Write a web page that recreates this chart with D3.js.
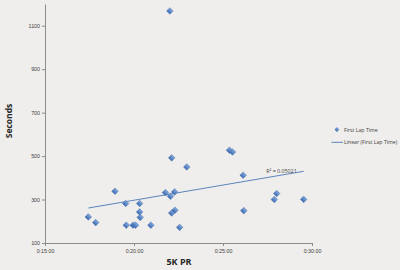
<!DOCTYPE html>
<html>
<head>
<meta charset="utf-8">
<script src="https://cdn.jsdelivr.net/npm/d3@7"></script>
<style>
  body { margin: 0; background: #efeeec; }
  svg { display: block; font-family: "Open Sans", "Liberation Sans", sans-serif; }
  .axis path, .axis line { stroke: #8c8c8c; }
  .axis text { fill: #404040; font-size: 5.3px; }
</style>
</head>
<body>
<svg id="chart" width="400" height="270"></svg>
<script>
// 5K PR in seconds, first lap time in seconds
var prSeconds = [1046, 1071, 1136, 1172, 1174, 1197, 1205, 1219, 1219, 1221, 1257,
    1306, 1323, 1337, 1327, 1378, 1327, 1338, 1354, 1321, 1522, 1532, 1568, 1570,
    1673, 1681, 1772];
var lapSeconds = [220, 194, 338, 282, 182, 182, 182, 282, 243, 218, 182,
    332, 315, 335, 492, 450, 238, 251, 172, 1168, 527, 519, 412, 249,
    300, 328, 301];

//linear trendline ends
var trendX = [1046, 1772];
var trendY = [261, 430];
var rSquared = "R² = 0.05021";

var xTicks = [900, 1200, 1500, 1800];
var xTickLabels = ["0:15:00", "0:20:00", "0:25:00", "0:30:00"];
var yTicks = [100, 300, 500, 700, 900, 1100];

var svg = d3.select("#chart");

var x = d3.scaleLinear().domain([900, 1800]).range([45, 312]);
var y = d3.scaleLinear().domain([100, 1200]).range([243, 4]);

//gradient for the markers
var grad = svg.append("defs").append("linearGradient")
    .attr("id", "mk").attr("x1", 0).attr("y1", 0).attr("x2", 0).attr("y2", 1);
grad.append("stop").attr("offset", "0%").attr("stop-color", "#86a9dc");
grad.append("stop").attr("offset", "100%").attr("stop-color", "#3c6bb2");

//y axis
svg.append("g")
    .attr("class", "axis")
    .attr("transform", "translate(45,0)")
    .call(d3.axisLeft(y).tickValues(yTicks).tickSize(3).tickSizeOuter(0).tickPadding(2)
        .tickFormat(d3.format("d")));

//x axis
svg.append("g")
    .attr("class", "axis")
    .attr("transform", "translate(0,243)")
    .call(d3.axisBottom(x).tickValues(xTicks).tickSize(3).tickSizeOuter(0).tickPadding(3)
        .tickFormat(function(d, i){ return xTickLabels[i]; }));

//trendline
svg.append("line")
    .attr("x1", x(trendX[0])).attr("y1", y(trendY[0]))
    .attr("x2", x(trendX[1])).attr("y2", y(trendY[1]))
    .attr("stroke", "#4a78b5")
    .attr("stroke-width", 0.9);

svg.append("text")
    .attr("x", x(trendX[1]) - 7)
    .attr("y", y(trendY[1]) + 2)
    .attr("text-anchor", "end")
    .attr("font-size", 5.3)
    .attr("fill", "#404040")
    .text(rSquared);

//points
var diamond = d3.symbol().type(d3.symbolSquare).size(22);
svg.append("g").selectAll("path")
    .data(prSeconds)
    .enter().append("path")
    .attr("d", diamond)
    .attr("transform", function(d, i){
        return "translate(" + x(d) + "," + y(lapSeconds[i]) + ") rotate(45)";
    })
    .attr("fill", "url(#mk)")
    .attr("stroke", "#3a66a6")
    .attr("stroke-width", 0.4);

//axis titles
svg.append("text")
    .attr("transform", "translate(12,121) rotate(-90)")
    .attr("text-anchor", "middle")
    .attr("font-size", 8.5)
    .attr("font-weight", "bold")
    .attr("fill", "#262626")
    .text("Seconds");

svg.append("text")
    .attr("x", 179)
    .attr("y", 265)
    .attr("text-anchor", "middle")
    .attr("font-size", 9)
    .attr("font-weight", "bold")
    .attr("fill", "#262626")
    .text("5K PR");

//legend
var legend = svg.append("g");
legend.append("path")
    .attr("d", d3.symbol().type(d3.symbolSquare).size(12))
    .attr("transform", "translate(337,129.5) rotate(45)")
    .attr("fill", "url(#mk)");
legend.append("text")
    .attr("x", 344)
    .attr("y", 131.5)
    .attr("font-size", 5.2)
    .attr("fill", "#404040")
    .text("First Lap Time");
legend.append("line")
    .attr("x1", 331.5).attr("x2", 343)
    .attr("y1", 142.3).attr("y2", 142.3)
    .attr("stroke", "#4a78b5")
    .attr("stroke-width", 0.9);
legend.append("text")
    .attr("x", 344)
    .attr("y", 144.3)
    .attr("font-size", 5.2)
    .attr("fill", "#404040")
    .text("Linear (First Lap Time)");
</script>
</body>
</html>
